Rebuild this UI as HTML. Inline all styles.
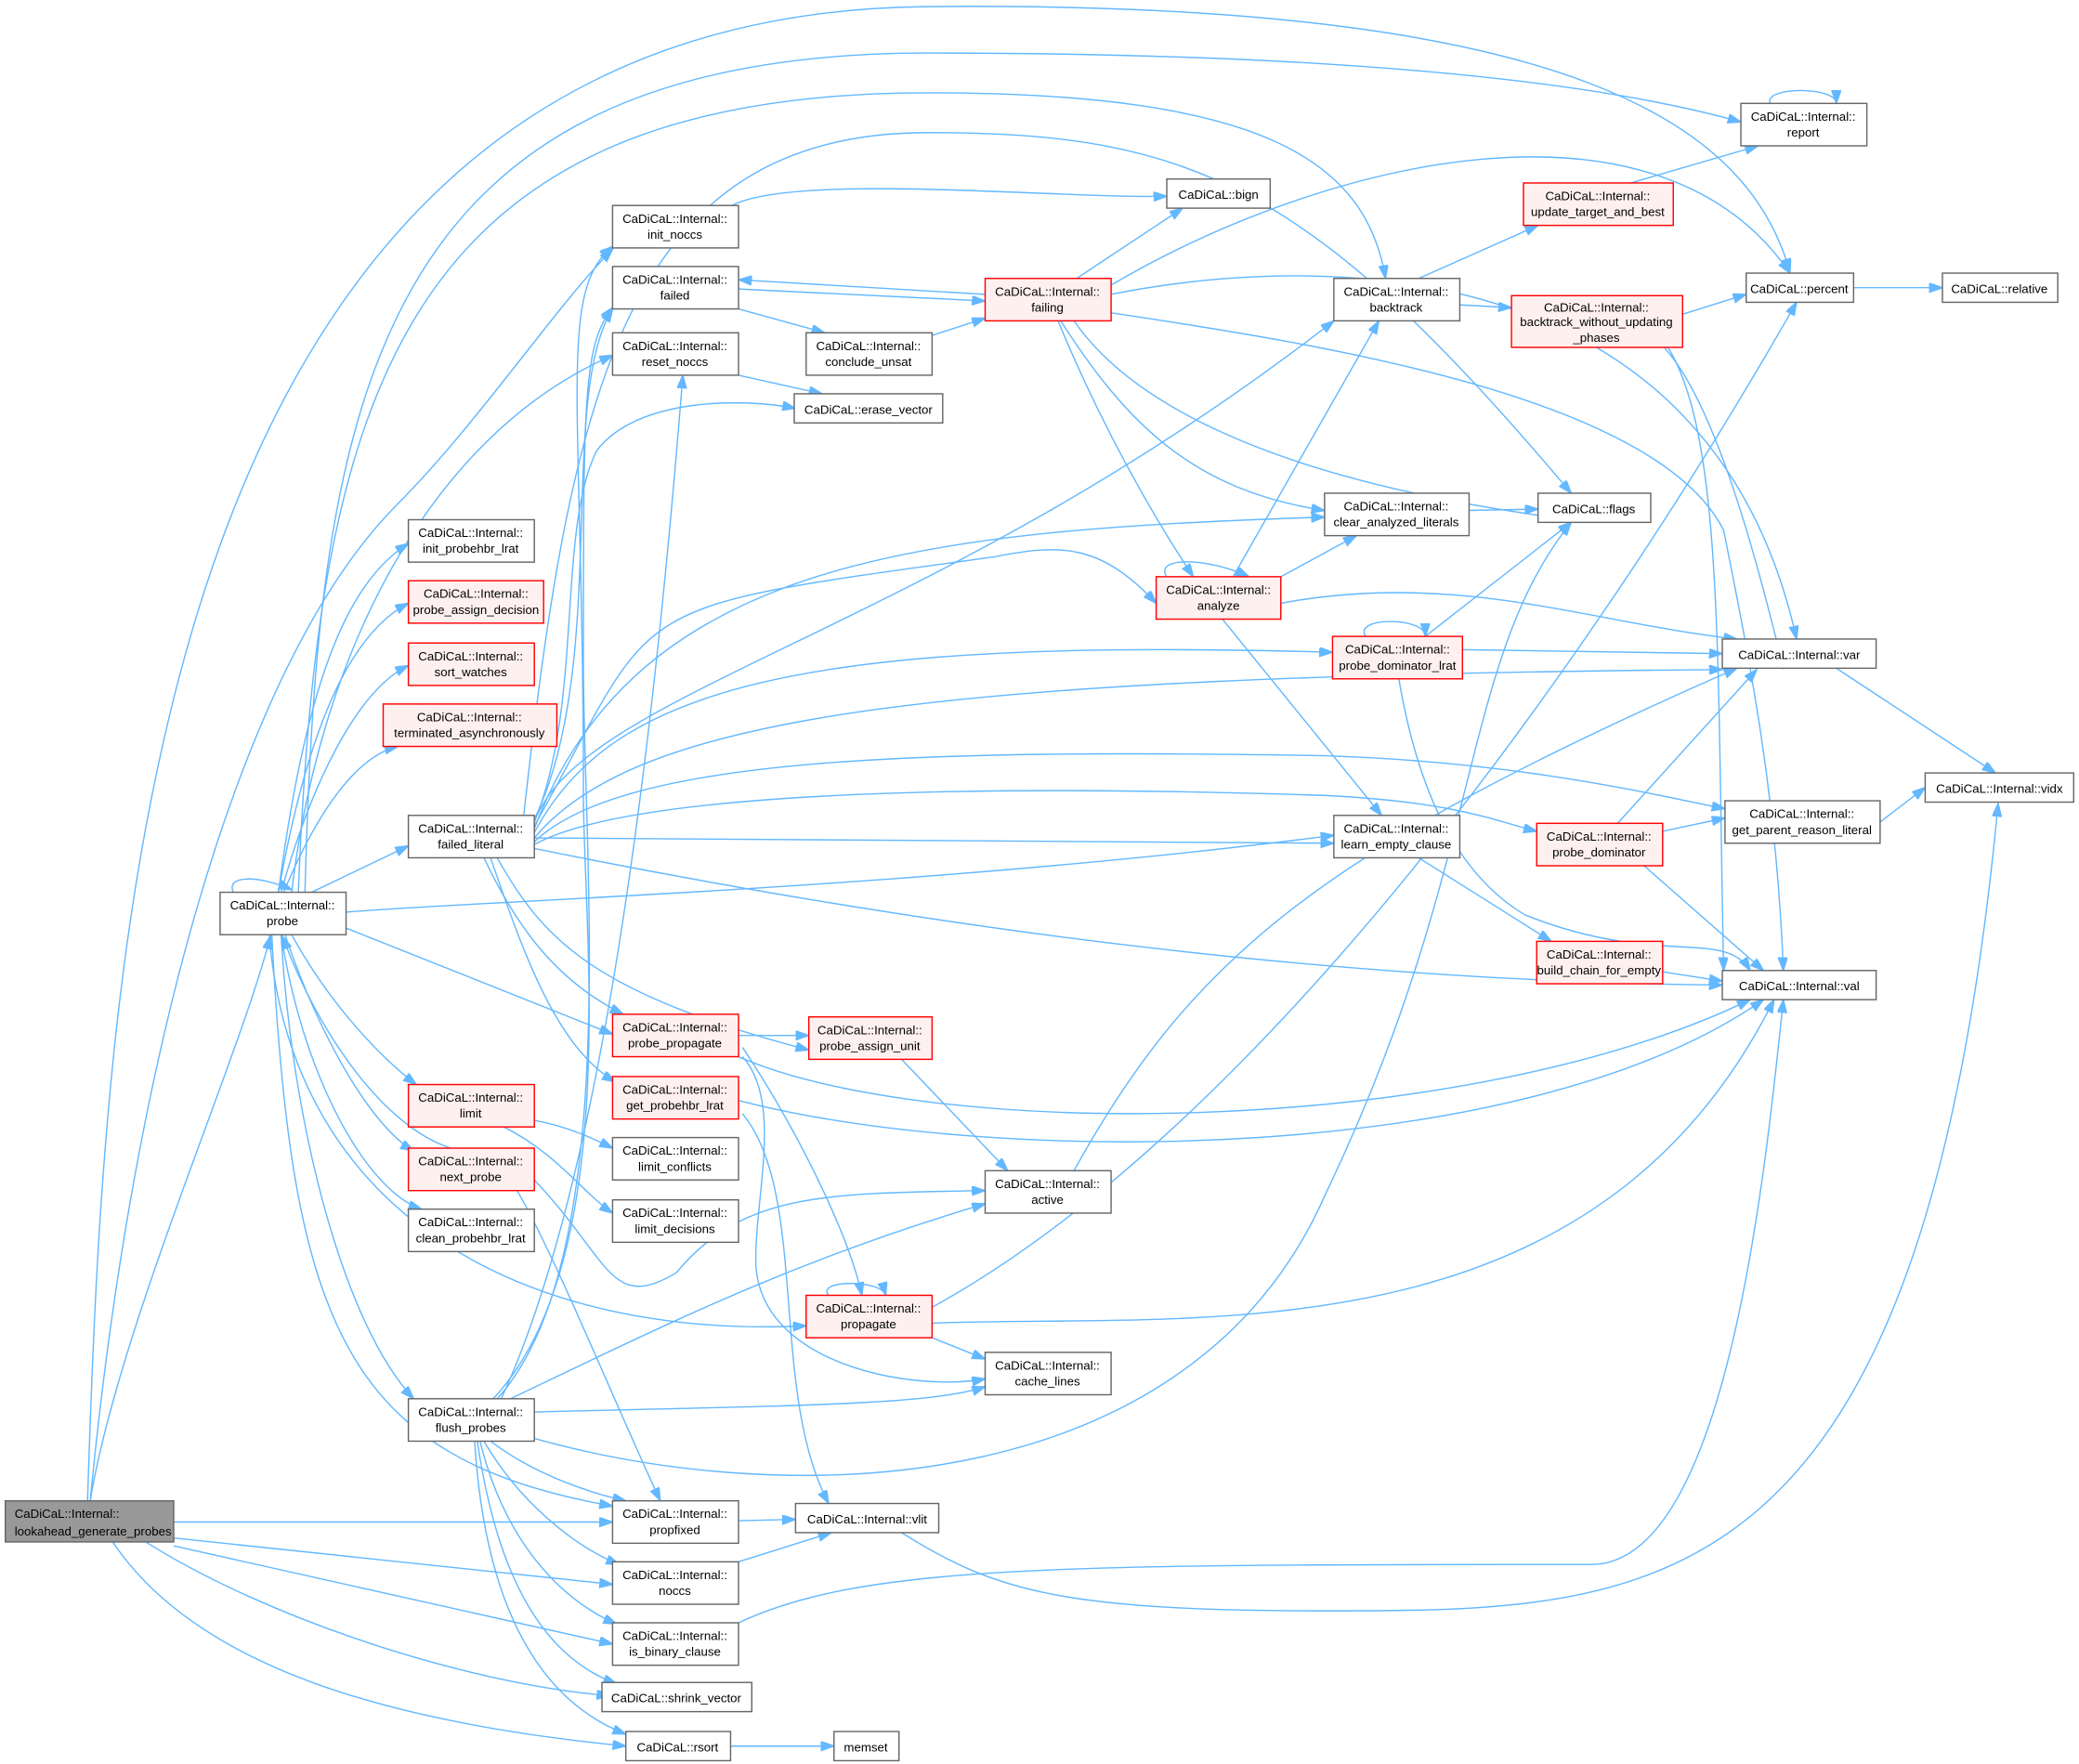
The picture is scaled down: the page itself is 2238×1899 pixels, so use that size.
<!DOCTYPE html>
<html><head><meta charset="utf-8"><style>
html,body{margin:0;padding:0;background:#fff;}
svg{display:block;}
text{font-family:"Liberation Sans",Arial,sans-serif;font-size:9.3px;fill:#000;}
.n{fill:#fff;stroke:#666;stroke-width:1;}
.r{fill:#fff0f0;stroke:#f00;stroke-width:1;}
.g{fill:#999;stroke:#666;stroke-width:1;}
path.e{fill:none;stroke:#63b8ff;stroke-width:1;marker-end:url(#a);}
</style></head><body>
<svg width="2238" height="1899" viewBox="0 0 1568 1330.5" xmlns="http://www.w3.org/2000/svg">
<defs><marker id="a" markerUnits="userSpaceOnUse" markerWidth="11" markerHeight="8" refX="10" refY="3.5" orient="auto"><path d="M0,0 L10,3.5 L0,7 z" fill="#63b8ff" stroke="#63b8ff"/></marker></defs>
<rect width="1568" height="1331" fill="#fff"/>
<g>
<path class="e" d="M68,1132 C90,1000 180,800 204,706"/>
<path class="e" d="M68,1132 C100,800 180,500 300,380 C360,320 420,230 462,188"/>
<path class="e" d="M66,1132 C80,700 110,10 700,5 C1200,0 1320,100 1350,205"/>
<path class="e" d="M131,1148 L462,1148"/>
<path class="e" d="M131,1160 L462,1195"/>
<path class="e" d="M131,1166 L462,1240"/>
<path class="e" d="M110,1163 C200,1220 350,1270 460,1279"/>
<path class="e" d="M85,1163 C150,1260 300,1300 472,1317"/>
<path class="e" d="M176,673 C170,660 195,660 220,671"/>
<path class="e" d="M230,673 C240,300 280,40 700,40 C1000,40 1200,60 1313,92"/>
<path class="e" d="M225,673 C240,300 300,70 700,70 C950,70 1030,120 1045,210"/>
<path class="e" d="M220,673 C240,500 320,330 462,268"/>
<path class="e" d="M210,673 C230,520 260,440 308,410"/>
<path class="e" d="M210,673 C230,560 260,480 308,455"/>
<path class="e" d="M212,673 C235,590 270,520 308,502"/>
<path class="e" d="M214,673 C240,610 270,570 300,563"/>
<path class="e" d="M235,673 L308,638"/>
<path class="e" d="M261,688 C350,680 700,670 1006,630"/>
<path class="e" d="M261,700 L462,780"/>
<path class="e" d="M220,705 C250,760 290,800 314,818"/>
<path class="e" d="M215,705 C240,780 280,850 312,868"/>
<path class="e" d="M212,705 C230,820 280,900 318,912"/>
<path class="e" d="M212,705 C220,850 260,1000 312,1055"/>
<path class="e" d="M205,705 C220,1000 260,1100 462,1136"/>
<path class="e" d="M203,705 C220,920 400,1010 608,1000"/>
<path class="e" d="M340,866 C290,850 240,780 213,706"/>
<path class="e" d="M403,845 C430,850 450,860 462,866"/>
<path class="e" d="M380,850 C420,870 440,900 462,915"/>
<path class="e" d="M403,890 C460,950 460,990 510,960 C560,900 620,900 743,898"/>
<path class="e" d="M390,898 C420,950 460,1050 498,1132"/>
<path class="e" d="M395,615 C430,300 470,100 700,100 C900,100 990,140 1185,372"/>
<path class="e" d="M403,618 C460,500 420,300 462,233"/>
<path class="e" d="M403,620 C440,530 420,400 450,340 C480,300 560,300 600,308"/>
<path class="e" d="M403,623 C500,450 460,460 750,420 C800,410 830,410 872,455"/>
<path class="e" d="M403,625 C480,420 700,400 999,390"/>
<path class="e" d="M403,620 C440,520 700,480 1006,242"/>
<path class="e" d="M403,628 C460,520 600,480 1005,492"/>
<path class="e" d="M403,632 C480,540 700,510 1299,505"/>
<path class="e" d="M403,635 C470,570 700,565 1000,570 C1150,575 1250,600 1301,610"/>
<path class="e" d="M403,637 C470,600 700,590 1000,600 C1100,605 1130,620 1159,627"/>
<path class="e" d="M403,632 L1006,636"/>
<path class="e" d="M403,640 C700,700 1000,740 1299,743"/>
<path class="e" d="M365,647 C390,700 420,740 470,765"/>
<path class="e" d="M375,647 C410,710 450,750 610,792"/>
<path class="e" d="M370,647 C395,720 420,790 464,816"/>
<path class="e" d="M372,1055 C470,950 440,700 440,600 C440,300 420,220 462,186"/>
<path class="e" d="M375,1055 C470,950 440,650 440,500 C440,300 440,260 462,232"/>
<path class="e" d="M378,1055 C450,900 490,600 515,283"/>
<path class="e" d="M385,1055 C500,1000 600,950 743,908"/>
<path class="e" d="M403,1065 C600,1060 700,1060 743,1046"/>
<path class="e" d="M403,1085 C600,1140 900,1130 1000,900 C1120,650 1100,500 1185,394"/>
<path class="e" d="M370,1087 C400,1110 440,1125 472,1132"/>
<path class="e" d="M365,1087 C390,1130 430,1165 467,1180"/>
<path class="e" d="M362,1087 C380,1160 420,1205 465,1225"/>
<path class="e" d="M360,1087 C375,1190 410,1250 465,1270"/>
<path class="e" d="M358,1087 C365,1200 400,1280 472,1308"/>
<path class="e" d="M552,155 C600,130 800,150 880,148"/>
<path class="e" d="M557,218 L743,227"/>
<path class="e" d="M743,222 L557,211"/>
<path class="e" d="M557,233 L622,251"/>
<path class="e" d="M703,253 L743,240"/>
<path class="e" d="M557,283 L620,297"/>
<path class="e" d="M812,210 L892,157"/>
<path class="e" d="M838,215 C1000,120 1250,60 1350,206"/>
<path class="e" d="M838,222 C1000,190 1290,190 1355,482"/>
<path class="e" d="M838,236 C1000,260 1250,300 1300,400 C1320,500 1340,600 1345,732"/>
<path class="e" d="M810,242 C850,300 950,360 1170,390"/>
<path class="e" d="M800,242 C850,320 900,370 999,385"/>
<path class="e" d="M798,242 C830,320 870,390 900,435"/>
<path class="e" d="M880,435 C870,420 910,420 942,435"/>
<path class="e" d="M930,435 L1040,242"/>
<path class="e" d="M966,435 L1023,404"/>
<path class="e" d="M966,455 C1100,430 1200,470 1310,482"/>
<path class="e" d="M922,467 L1042,615"/>
<path class="e" d="M1070,210 L1160,170"/>
<path class="e" d="M1101,230 L1140,232"/>
<path class="e" d="M1230,138 L1326,110"/>
<path class="e" d="M1269,237 L1317,222"/>
<path class="e" d="M1255,262 C1290,300 1320,400 1345,504"/>
<path class="e" d="M1258,262 C1300,330 1295,500 1300,732"/>
<path class="e" d="M1398,217 L1465,217"/>
<path class="e" d="M1335,78 C1330,65 1385,65 1385,78"/>
<path class="e" d="M1108,385 L1160,384"/>
<path class="e" d="M1030,480 C1020,465 1075,465 1075,480"/>
<path class="e" d="M1075,480 L1185,394"/>
<path class="e" d="M1103,490 L1299,493"/>
<path class="e" d="M1055,512 C1070,600 1100,660 1150,690 C1250,730 1300,700 1320,732"/>
<path class="e" d="M1220,621 L1325,505"/>
<path class="e" d="M1254,627 L1301,617"/>
<path class="e" d="M1240,653 L1330,732"/>
<path class="e" d="M1418,620 L1452,594"/>
<path class="e" d="M1385,504 L1505,583"/>
<path class="e" d="M1070,647 L1170,710"/>
<path class="e" d="M1254,733 L1299,740"/>
<path class="e" d="M557,781 L610,781"/>
<path class="e" d="M560,790 C600,850 640,930 650,977"/>
<path class="e" d="M557,797 C700,860 1100,860 1320,754"/>
<path class="e" d="M560,797 C590,830 570,900 570,950 C570,1030 690,1050 743,1040"/>
<path class="e" d="M557,830 C750,880 1150,880 1330,754"/>
<path class="e" d="M560,840 C610,900 580,1050 625,1134"/>
<path class="e" d="M680,799 L760,883"/>
<path class="e" d="M810,883 C900,720 1000,640 1310,504"/>
<path class="e" d="M625,977 C615,965 665,965 668,977"/>
<path class="e" d="M703,998 C900,990 1200,1030 1338,754"/>
<path class="e" d="M703,986 C950,850 1200,500 1355,228"/>
<path class="e" d="M703,1009 L743,1025"/>
<path class="e" d="M557,1147 L600,1146"/>
<path class="e" d="M557,1178 L627,1156"/>
<path class="e" d="M557,1224 C650,1180 800,1180 1200,1180 C1300,1180 1330,900 1345,754"/>
<path class="e" d="M680,1156 C750,1200 800,1215 1000,1215 C1250,1215 1450,1215 1507,606"/>
<path class="e" d="M551,1317 L629,1317"/>
</g>
<g>
<rect class="g" x="4" y="1132" width="127" height="31"/><text x="11" y="1145">CaDiCaL::Internal::</text><text x="11" y="1158">lookahead_generate_probes</text>
<g text-anchor="middle">
<rect class="n" x="166" y="673" width="95" height="32"/><text x="213" y="686">CaDiCaL::Internal::</text><text x="213" y="698">probe</text>
<rect class="n" x="462" y="155" width="95" height="32"/><text x="509" y="168">CaDiCaL::Internal::</text><text x="509" y="180">init_noccs</text>
<rect class="n" x="462" y="201" width="95" height="32"/><text x="509" y="214">CaDiCaL::Internal::</text><text x="509" y="226">failed</text>
<rect class="n" x="462" y="251" width="95" height="32"/><text x="509" y="264">CaDiCaL::Internal::</text><text x="509" y="276">reset_noccs</text>
<rect class="n" x="308" y="392" width="95" height="32"/><text x="355" y="405">CaDiCaL::Internal::</text><text x="355" y="417">init_probehbr_lrat</text>
<rect class="r" x="308" y="438" width="102" height="32"/><text x="359" y="451">CaDiCaL::Internal::</text><text x="359" y="463">probe_assign_decision</text>
<rect class="r" x="308" y="485" width="95" height="32"/><text x="355" y="498">CaDiCaL::Internal::</text><text x="355" y="510">sort_watches</text>
<rect class="r" x="289" y="531" width="131" height="32"/><text x="354" y="544">CaDiCaL::Internal::</text><text x="354" y="556">terminated_asynchronously</text>
<rect class="n" x="308" y="615" width="95" height="32"/><text x="355" y="628">CaDiCaL::Internal::</text><text x="355" y="640">failed_literal</text>
<rect class="r" x="308" y="818" width="95" height="32"/><text x="355" y="831">CaDiCaL::Internal::</text><text x="355" y="843">limit</text>
<rect class="r" x="308" y="866" width="95" height="32"/><text x="355" y="879">CaDiCaL::Internal::</text><text x="355" y="891">next_probe</text>
<rect class="n" x="308" y="912" width="95" height="32"/><text x="355" y="925">CaDiCaL::Internal::</text><text x="355" y="937">clean_probehbr_lrat</text>
<rect class="n" x="308" y="1055" width="95" height="32"/><text x="355" y="1068">CaDiCaL::Internal::</text><text x="355" y="1080">flush_probes</text>
<rect class="r" x="462" y="765" width="95" height="32"/><text x="509" y="778">CaDiCaL::Internal::</text><text x="509" y="790">probe_propagate</text>
<rect class="r" x="462" y="812" width="95" height="32"/><text x="509" y="825">CaDiCaL::Internal::</text><text x="509" y="837">get_probehbr_lrat</text>
<rect class="n" x="462" y="858" width="95" height="32"/><text x="509" y="871">CaDiCaL::Internal::</text><text x="509" y="883">limit_conflicts</text>
<rect class="n" x="462" y="905" width="95" height="32"/><text x="509" y="918">CaDiCaL::Internal::</text><text x="509" y="930">limit_decisions</text>
<rect class="n" x="462" y="1132" width="95" height="32"/><text x="509" y="1145">CaDiCaL::Internal::</text><text x="509" y="1157">propfixed</text>
<rect class="n" x="462" y="1178" width="95" height="32"/><text x="509" y="1191">CaDiCaL::Internal::</text><text x="509" y="1203">noccs</text>
<rect class="n" x="462" y="1224" width="95" height="32"/><text x="509" y="1237">CaDiCaL::Internal::</text><text x="509" y="1249">is_binary_clause</text>
<rect class="n" x="454" y="1269" width="113" height="22"/><text x="510" y="1284">CaDiCaL::shrink_vector</text>
<rect class="n" x="472" y="1306" width="79" height="22"/><text x="511" y="1321">CaDiCaL::rsort</text>
<rect class="n" x="629" y="1306" width="49" height="22"/><text x="653" y="1321">memset</text>
<rect class="n" x="600" y="1134" width="108" height="22"/><text x="654" y="1149">CaDiCaL::Internal::vlit</text>
<rect class="r" x="610" y="767" width="93" height="32"/><text x="656" y="780">CaDiCaL::Internal::</text><text x="656" y="792">probe_assign_unit</text>
<rect class="n" x="599" y="297" width="112" height="22"/><text x="655" y="312">CaDiCaL::erase_vector</text>
<rect class="n" x="608" y="251" width="95" height="32"/><text x="655" y="264">CaDiCaL::Internal::</text><text x="655" y="276">conclude_unsat</text>
<rect class="r" x="743" y="210" width="95" height="32"/><text x="790" y="223">CaDiCaL::Internal::</text><text x="790" y="235">failing</text>
<rect class="n" x="880" y="135" width="78" height="22"/><text x="919" y="150">CaDiCaL::bign</text>
<rect class="r" x="872" y="435" width="94" height="32"/><text x="919" y="448">CaDiCaL::Internal::</text><text x="919" y="460">analyze</text>
<rect class="n" x="743" y="883" width="95" height="32"/><text x="790" y="896">CaDiCaL::Internal::</text><text x="790" y="908">active</text>
<rect class="r" x="608" y="977" width="95" height="32"/><text x="655" y="990">CaDiCaL::Internal::</text><text x="655" y="1002">propagate</text>
<rect class="n" x="743" y="1020" width="95" height="32"/><text x="790" y="1033">CaDiCaL::Internal::</text><text x="790" y="1045">cache_lines</text>
<rect class="n" x="1006" y="210" width="95" height="32"/><text x="1053" y="223">CaDiCaL::Internal::</text><text x="1053" y="235">backtrack</text>
<rect class="n" x="999" y="372" width="109" height="32"/><text x="1053" y="385">CaDiCaL::Internal::</text><text x="1053" y="397">clear_analyzed_literals</text>
<rect class="n" x="1160" y="372" width="85" height="22"/><text x="1202" y="387">CaDiCaL::flags</text>
<rect class="r" x="1005" y="480" width="98" height="32"/><text x="1054" y="493">CaDiCaL::Internal::</text><text x="1054" y="505">probe_dominator_lrat</text>
<rect class="n" x="1006" y="615" width="95" height="32"/><text x="1053" y="628">CaDiCaL::Internal::</text><text x="1053" y="640">learn_empty_clause</text>
<rect class="r" x="1159" y="621" width="95" height="32"/><text x="1206" y="634">CaDiCaL::Internal::</text><text x="1206" y="646">probe_dominator</text>
<rect class="r" x="1159" y="710" width="95" height="32"/><text x="1206" y="723">CaDiCaL::Internal::</text><text x="1206" y="735">build_chain_for_empty</text>
<rect class="r" x="1149" y="138" width="113" height="32"/><text x="1205" y="151">CaDiCaL::Internal::</text><text x="1205" y="163">update_target_and_best</text>
<rect class="r" x="1140" y="223" width="129" height="39"/><text x="1204" y="235">CaDiCaL::Internal::</text><text x="1204" y="246">backtrack_without_updating</text><text x="1204" y="258">_phases</text>
<rect class="n" x="1313" y="78" width="95" height="32"/><text x="1360" y="91">CaDiCaL::Internal::</text><text x="1360" y="103">report</text>
<rect class="n" x="1317" y="206" width="81" height="22"/><text x="1357" y="221">CaDiCaL::percent</text>
<rect class="n" x="1465" y="206" width="87" height="22"/><text x="1508" y="221">CaDiCaL::relative</text>
<rect class="n" x="1299" y="482" width="116" height="22"/><text x="1357" y="497">CaDiCaL::Internal::var</text>
<rect class="n" x="1301" y="604" width="117" height="32"/><text x="1359" y="617">CaDiCaL::Internal::</text><text x="1359" y="629">get_parent_reason_literal</text>
<rect class="n" x="1452" y="583" width="112" height="22"/><text x="1508" y="598">CaDiCaL::Internal::vidx</text>
<rect class="n" x="1299" y="732" width="116" height="22"/><text x="1357" y="747">CaDiCaL::Internal::val</text>
</g>
</g>
</svg>
</body></html>
